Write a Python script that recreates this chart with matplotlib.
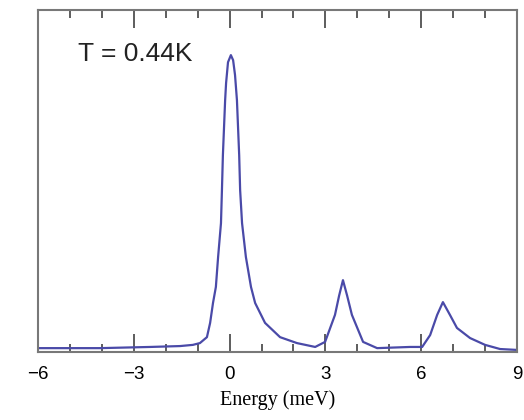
import matplotlib
matplotlib.use("Agg")
import matplotlib.pyplot as plt
from matplotlib.ticker import MultipleLocator

# Data (energy in meV, intensity normalised to main peak)
energy = [-6.0, -4.06, -2.49, -1.55, -1.15, -0.93, -0.71, -0.61, -0.52, -0.43,
          -0.36, -0.27, -0.24, -0.21, -0.14, -0.11, -0.05, 0.04, 0.11, 0.17,
          0.23, 0.30, 0.33, 0.39, 0.51, 0.67, 0.80, 1.11, 1.58, 2.11,
          2.68, 2.99, 3.30, 3.43, 3.55, 3.68, 3.83, 4.18, 4.62, 5.65,
          6.03, 6.28, 6.50, 6.68, 6.90, 7.12, 7.53, 8.00, 8.47, 9.0]
intensity = [0.013, 0.013, 0.017, 0.020, 0.024, 0.030, 0.050, 0.098, 0.165, 0.219,
             0.320, 0.434, 0.545, 0.663, 0.848, 0.906, 0.976, 1.000, 0.983, 0.933,
             0.848, 0.663, 0.545, 0.434, 0.320, 0.219, 0.165, 0.098, 0.050, 0.030,
             0.017, 0.034, 0.125, 0.190, 0.242, 0.190, 0.125, 0.034, 0.013, 0.017,
             0.017, 0.057, 0.125, 0.168, 0.125, 0.081, 0.047, 0.024, 0.010, 0.007]
xticks = [-6, -3, 0, 3, 6, 9]
xticklabels = ["\u22126", "\u22123", "0", "3", "6", "9"]
annotation = "T = 0.44K"
xlabel = "Energy (meV)"

fig = plt.figure(figsize=(5.24, 4.2), dpi=100)
ax = fig.add_axes([38/524, 68/420, 479/524, 342/420])

ax.plot(energy, intensity, color="#4a4aa8", lw=1.6, solid_joinstyle="round")
ax.set_xlim(-6, 9)
ax.set_ylim(0, 1.152)

for s in ax.spines.values():
    s.set_color("#787878")
    s.set_linewidth(1.5)

ax.set_xticks(xticks)
ax.set_xticklabels(xticklabels, family="Liberation Sans", fontsize=13.5)
ax.xaxis.set_minor_locator(MultipleLocator(1))
ax.tick_params(axis="x", which="both", direction="in", top=True, bottom=True,
               color="#505050", width=1.3, pad=10)
ax.tick_params(axis="x", which="major", length=13)
ax.tick_params(axis="x", which="minor", length=6)
ax.set_yticks([])

ax.set_xlabel(xlabel, family="Liberation Serif", fontsize=14.5, labelpad=5)
ax.text(0.083, 0.87, annotation, transform=ax.transAxes, family="Liberation Sans",
        fontsize=19, color="#222222", va="center", ha="left")

fig.savefig("out.png", dpi=100)
